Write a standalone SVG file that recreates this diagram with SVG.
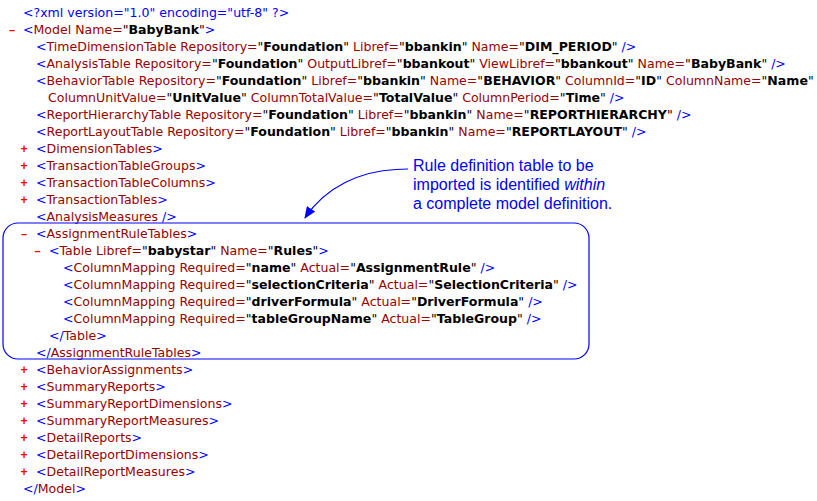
<svg xmlns="http://www.w3.org/2000/svg" width="817" height="501" viewBox="0 0 817 501">
<defs>
<style>
text{font-family:"DejaVu Sans",Verdana,sans-serif;font-size:12.55px;white-space:pre;fill:#000}
.m{fill:#0000ff}
.t{fill:#990000}
.v{font-weight:bold;fill:#000}
.b{fill:#ff0000;font-family:"Liberation Mono","Courier New",monospace;font-weight:bold;font-size:12px}
.note{font-family:"Liberation Sans",Arial,sans-serif;font-size:16px;fill:#0000ff}
.blue{stroke:#0000ff;fill:none;stroke-width:1.2}
</style>
<marker id="ah" viewBox="0 0 12 10" refX="11" refY="5" markerWidth="12" markerHeight="10" markerUnits="userSpaceOnUse" orient="auto">
<path d="M0,0 L12,5 L0,10 Z" fill="#0000ff"/>
</marker>
</defs>
<rect width="817" height="501" fill="#fff"/>
<g id="listing">
<text x="23" y="17"><tspan class="m">&lt;?xml version="1.0" encoding="utf-8" ?&gt;</tspan></text>
<text class="b" x="8.5" y="34">–</text>
<text x="23" y="34"><tspan class="m">&lt;</tspan><tspan class="t">Model Name=</tspan>"<tspan class="v">BabyBank</tspan>"<tspan class="m">&gt;</tspan></text>
<text x="36" y="51"><tspan class="m">&lt;</tspan><tspan class="t">TimeDimensionTable Repository=</tspan>"<tspan class="v">Foundation</tspan>"<tspan class="t"> Libref=</tspan>"<tspan class="v">bbankin</tspan>"<tspan class="t"> Name=</tspan>"<tspan class="v">DIM_PERIOD</tspan>"<tspan class="m"> /&gt;</tspan></text>
<text x="36" y="68"><tspan class="m">&lt;</tspan><tspan class="t">AnalysisTable Repository=</tspan>"<tspan class="v">Foundation</tspan>"<tspan class="t"> OutputLibref=</tspan>"<tspan class="v">bbankout</tspan>"<tspan class="t"> ViewLibref=</tspan>"<tspan class="v">bbankout</tspan>"<tspan class="t"> Name=</tspan>"<tspan class="v">BabyBank</tspan>"<tspan class="m"> /&gt;</tspan></text>
<text x="36" y="85"><tspan class="m">&lt;</tspan><tspan class="t">BehaviorTable Repository=</tspan>"<tspan class="v">Foundation</tspan>"<tspan class="t"> Libref=</tspan>"<tspan class="v">bbankin</tspan>"<tspan class="t"> Name=</tspan>"<tspan class="v">BEHAVIOR</tspan>"<tspan class="t"> ColumnId=</tspan>"<tspan class="v">ID</tspan>"<tspan class="t"> ColumnName=</tspan>"<tspan class="v">Name</tspan>"</text>
<text x="48" y="102"><tspan class="t">ColumnUnitValue=</tspan>"<tspan class="v">UnitValue</tspan>"<tspan class="t"> ColumnTotalValue=</tspan>"<tspan class="v">TotalValue</tspan>"<tspan class="t"> ColumnPeriod=</tspan>"<tspan class="v">Time</tspan>"<tspan class="m"> /&gt;</tspan></text>
<text x="36" y="119"><tspan class="m">&lt;</tspan><tspan class="t">ReportHierarchyTable Repository=</tspan>"<tspan class="v">Foundation</tspan>"<tspan class="t"> Libref=</tspan>"<tspan class="v">bbankin</tspan>"<tspan class="t"> Name=</tspan>"<tspan class="v">REPORTHIERARCHY</tspan>"<tspan class="m"> /&gt;</tspan></text>
<text x="36" y="136"><tspan class="m">&lt;</tspan><tspan class="t">ReportLayoutTable Repository=</tspan>"<tspan class="v">Foundation</tspan>"<tspan class="t"> Libref=</tspan>"<tspan class="v">bbankin</tspan>"<tspan class="t"> Name=</tspan>"<tspan class="v">REPORTLAYOUT</tspan>"<tspan class="m"> /&gt;</tspan></text>
<text class="b" x="20.5" y="153">+</text>
<text x="36" y="153"><tspan class="m">&lt;</tspan><tspan class="t">DimensionTables</tspan><tspan class="m">&gt;</tspan></text>
<text class="b" x="20.5" y="170">+</text>
<text x="36" y="170"><tspan class="m">&lt;</tspan><tspan class="t">TransactionTableGroups</tspan><tspan class="m">&gt;</tspan></text>
<text class="b" x="20.5" y="187">+</text>
<text x="36" y="187"><tspan class="m">&lt;</tspan><tspan class="t">TransactionTableColumns</tspan><tspan class="m">&gt;</tspan></text>
<text class="b" x="20.5" y="204">+</text>
<text x="36" y="204"><tspan class="m">&lt;</tspan><tspan class="t">TransactionTables</tspan><tspan class="m">&gt;</tspan></text>
<text x="36" y="221"><tspan class="m">&lt;</tspan><tspan class="t">AnalysisMeasures</tspan><tspan class="m"> /&gt;</tspan></text>
<text class="b" x="20.5" y="238">–</text>
<text x="36" y="238"><tspan class="m">&lt;</tspan><tspan class="t">AssignmentRuleTables</tspan><tspan class="m">&gt;</tspan></text>
<text class="b" x="34" y="255">–</text>
<text x="49" y="255"><tspan class="m">&lt;</tspan><tspan class="t">Table Libref=</tspan>"<tspan class="v">babystar</tspan>"<tspan class="t"> Name=</tspan>"<tspan class="v">Rules</tspan>"<tspan class="m">&gt;</tspan></text>
<text x="63" y="272"><tspan class="m">&lt;</tspan><tspan class="t">ColumnMapping Required=</tspan>"<tspan class="v">name</tspan>"<tspan class="t"> Actual=</tspan>"<tspan class="v">AssignmentRule</tspan>"<tspan class="m"> /&gt;</tspan></text>
<text x="63" y="289"><tspan class="m">&lt;</tspan><tspan class="t">ColumnMapping Required=</tspan>"<tspan class="v">selectionCriteria</tspan>"<tspan class="t"> Actual=</tspan>"<tspan class="v">SelectionCriteria</tspan>"<tspan class="m"> /&gt;</tspan></text>
<text x="63" y="306"><tspan class="m">&lt;</tspan><tspan class="t">ColumnMapping Required=</tspan>"<tspan class="v">driverFormula</tspan>"<tspan class="t"> Actual=</tspan>"<tspan class="v">DriverFormula</tspan>"<tspan class="m"> /&gt;</tspan></text>
<text x="63" y="323"><tspan class="m">&lt;</tspan><tspan class="t">ColumnMapping Required=</tspan>"<tspan class="v">tableGroupName</tspan>"<tspan class="t"> Actual=</tspan>"<tspan class="v">TableGroup</tspan>"<tspan class="m"> /&gt;</tspan></text>
<text x="49" y="340"><tspan class="m">&lt;/</tspan><tspan class="t">Table</tspan><tspan class="m">&gt;</tspan></text>
<text x="36" y="357"><tspan class="m">&lt;/</tspan><tspan class="t">AssignmentRuleTables</tspan><tspan class="m">&gt;</tspan></text>
<text class="b" x="20.5" y="374">+</text>
<text x="36" y="374"><tspan class="m">&lt;</tspan><tspan class="t">BehaviorAssignments</tspan><tspan class="m">&gt;</tspan></text>
<text class="b" x="20.5" y="391">+</text>
<text x="36" y="391"><tspan class="m">&lt;</tspan><tspan class="t">SummaryReports</tspan><tspan class="m">&gt;</tspan></text>
<text class="b" x="20.5" y="408">+</text>
<text x="36" y="408"><tspan class="m">&lt;</tspan><tspan class="t">SummaryReportDimensions</tspan><tspan class="m">&gt;</tspan></text>
<text class="b" x="20.5" y="425">+</text>
<text x="36" y="425"><tspan class="m">&lt;</tspan><tspan class="t">SummaryReportMeasures</tspan><tspan class="m">&gt;</tspan></text>
<text class="b" x="20.5" y="442">+</text>
<text x="36" y="442"><tspan class="m">&lt;</tspan><tspan class="t">DetailReports</tspan><tspan class="m">&gt;</tspan></text>
<text class="b" x="20.5" y="459">+</text>
<text x="36" y="459"><tspan class="m">&lt;</tspan><tspan class="t">DetailReportDimensions</tspan><tspan class="m">&gt;</tspan></text>
<text class="b" x="20.5" y="476">+</text>
<text x="36" y="476"><tspan class="m">&lt;</tspan><tspan class="t">DetailReportMeasures</tspan><tspan class="m">&gt;</tspan></text>
<text x="23" y="493"><tspan class="m">&lt;/</tspan><tspan class="t">Model</tspan><tspan class="m">&gt;</tspan></text>
</g>
<g id="rule-box">
<rect class="blue" x="3" y="223" width="586" height="136" rx="15" ry="15"/>
</g>
<g id="callout">
<text class="note" x="413" y="171">Rule definition table to be</text>
<text class="note" x="413" y="190">imported is identified <tspan font-style="italic">within</tspan></text>
<text class="note" x="413" y="209">a complete model definition.</text>
</g>
<g id="connectors">
<path class="blue" d="M408,169 L396,169.5 C362,171 326,186 305,218" marker-end="url(#ah)"/>
</g>
</svg>
